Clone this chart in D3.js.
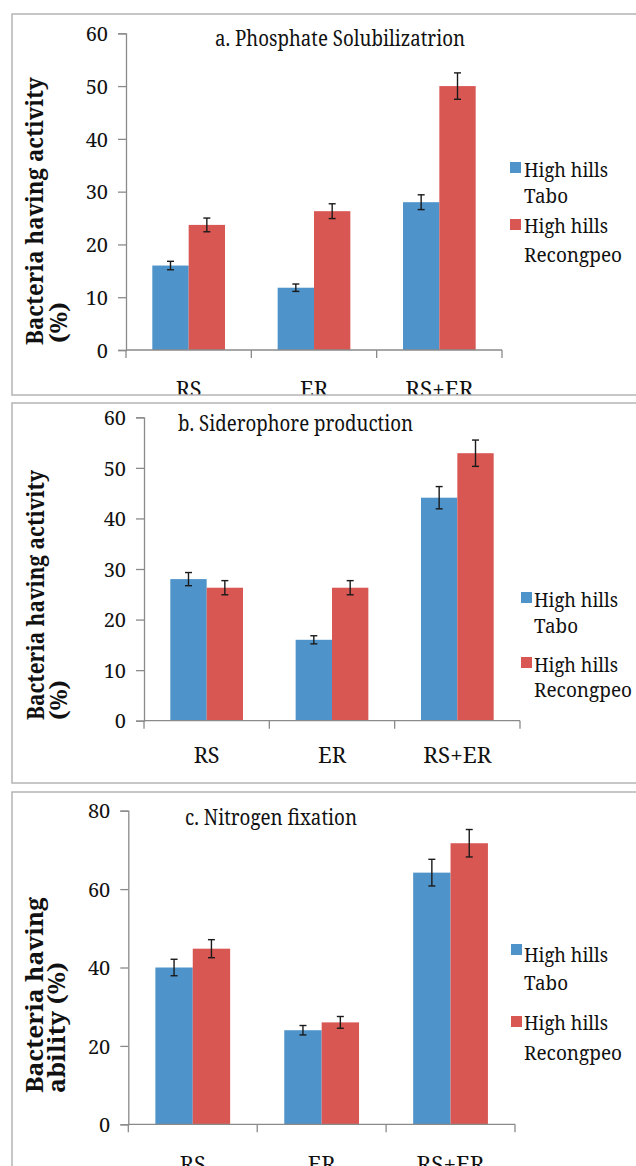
<!DOCTYPE html>
<html>
<head>
<meta charset="utf-8">
<script src="https://cdn.jsdelivr.net/npm/d3@7"></script>
<style>
  html, body { margin: 0; padding: 0; background: #fff; }
  svg { display: block; }
</style>
</head>
<body>
<svg id="chart" width="636" height="1166"></svg>
<script>
// ---------------- DATA ----------------
const categories = ["RS", "ER", "RS+ER"];
const seriesNames = [["High hills", "Tabo"], ["High hills", "Recongpeo"]];

const phosTabo = [16.0, 11.8, 28.0];
const phosTaboErr = [0.8, 0.7, 1.4];
const phosRecong = [23.7, 26.3, 50.0];
const phosRecongErr = [1.3, 1.4, 2.5];

const sidTabo = [28.0, 16.0, 44.1];
const sidTaboErr = [1.3, 0.8, 2.2];
const sidRecong = [26.3, 26.3, 52.9];
const sidRecongErr = [1.4, 1.4, 2.6];

const nitTabo = [40.0, 24.0, 64.2];
const nitTaboErr = [2.1, 1.2, 3.4];
const nitRecong = [44.8, 26.0, 71.7];
const nitRecongErr = [2.3, 1.5, 3.5];

const ticksAB = [0, 10, 20, 30, 40, 50, 60];
const ticksC = [0, 20, 40, 60, 80];

const titles = ["a. Phosphate Solubilizatrion", "b. Siderophore production", "c. Nitrogen fixation"];
const yLabels = [["Bacteria having activity", "(%)"], ["Bacteria having activity", "(%)"], ["Bacteria having", "ability (%)"]];

// ---------------- LAYOUT ----------------
const FONT = '"Noto Serif", "Liberation Serif", serif';
const colors = ["#4e93c9", "#d85753"];
const catWidths = { "RS": 26, "ER": 28, "RS+ER": 68 };
const legendWidths = { "High hills": 84, "Tabo": 44, "Recongpeo": 98 };
const panels = [
  { series: [phosTabo, phosRecong], errs: [phosTaboErr, phosRecongErr], ticks: ticksAB, max: 60,
    box: [12, 14, 395], x0: 126, x1: 502, yTop: 33.3, yBot: 350,
    title: { x: 215, y: 46, len: 250 },
    ylab: [{ x: 43, y: 345, len: 268 }, { x: 67, y: 343, len: 41 }],
    catDy: 47, legend: { sx: 510, tx: 524, rows: [[162, 177, 203], [219, 233, 262]] } },
  { series: [sidTabo, sidRecong], errs: [sidTaboErr, sidRecongErr], ticks: ticksAB, max: 60,
    box: [12, 403, 783], x0: 144, x1: 520, yTop: 417.3, yBot: 720.7,
    title: { x: 178, y: 431, len: 235 },
    ylab: [{ x: 44, y: 720, len: 250 }, { x: 67, y: 720, len: 40 }],
    catDy: 42, legend: { sx: 521, tx: 534, rows: [[592, 607, 633], [657, 672, 697]] } },
  { series: [nitTabo, nitRecong], errs: [nitTaboErr, nitRecongErr], ticks: ticksC, max: 80,
    box: [12, 792, 1200], x0: 128.3, x1: 515, yTop: 810.7, yBot: 1124.3,
    title: { x: 185, y: 825, len: 172 },
    ylab: [{ x: 43, y: 1093, len: 196 }, { x: 65, y: 1093, len: 131 }],
    catDy: 48, legend: { sx: 511, tx: 524, rows: [[944, 962, 990], [1016, 1030, 1060]] } }
];

const svg = d3.select("#chart");
const defs = svg.append("defs");

function txt(sel, size, weight) {
  return sel.style("font-family", FONT).style("font-size", size + "px")
    .style("font-weight", weight || "normal").attr("fill", "#111");
}

panels.forEach((p, pi) => {
  const [bx, by0, by1] = p.box;
  const clipId = "clip" + pi;
  defs.append("clipPath").attr("id", clipId)
    .append("rect").attr("x", bx).attr("y", by0).attr("width", 640 - bx).attr("height", by1 - by0);

  const g = svg.append("g").attr("clip-path", `url(#${clipId})`);

  // frame
  svg.append("rect")
    .attr("x", bx).attr("y", by0).attr("width", 640 - bx).attr("height", by1 - by0)
    .attr("fill", "none").attr("stroke", "#b4b4b4").attr("stroke-width", 1.5);

  const x = d3.scaleBand().domain(categories).range([p.x0, p.x1]).padding(0);
  const pad = x.bandwidth() * 0.21;
  const xs = d3.scaleBand().domain([0, 1]).range([pad, x.bandwidth() - pad]).padding(0);
  const y = d3.scaleLinear().domain([0, p.max]).range([p.yBot, p.yTop]);

  // bars
  p.series.forEach((vals, si) => {
    g.selectAll(null).data(vals).enter().append("rect")
      .attr("x", (d, i) => x(categories[i]) + xs(si))
      .attr("y", d => y(d))
      .attr("width", xs.bandwidth())
      .attr("height", d => y(0) - y(d))
      .attr("fill", colors[si]);
  });

  // error bars
  p.series.forEach((vals, si) => {
    const errs = p.errs[si];
    const eg = g.append("g").attr("stroke", "#1a1a1a").attr("stroke-width", 1.4);
    vals.forEach((v, i) => {
      const cx = x(categories[i]) + xs(si) + xs.bandwidth() / 2;
      const yHi = y(v + errs[i]), yLo = y(v - errs[i]);
      eg.append("line").attr("x1", cx).attr("x2", cx).attr("y1", yHi).attr("y2", yLo);
      eg.append("line").attr("x1", cx - 3.5).attr("x2", cx + 3.5).attr("y1", yHi).attr("y2", yHi);
      eg.append("line").attr("x1", cx - 3.5).attr("x2", cx + 3.5).attr("y1", yLo).attr("y2", yLo);
    });
  });

  // y axis
  const yAxis = d3.axisLeft(y).tickValues(p.ticks).tickSize(8).tickPadding(10).tickFormat(d3.format("d"));
  const ya = g.append("g").attr("transform", `translate(${p.x0},0)`).call(yAxis);
  ya.select(".domain").attr("stroke", "#8a8a8a").attr("stroke-width", 1.3);
  ya.selectAll(".tick line").attr("stroke", "#8a8a8a").attr("stroke-width", 1.3);
  txt(ya.selectAll(".tick text"), 20).attr("dy", "0.36em");

  // x axis
  const xa = g.append("g").attr("transform", `translate(0,${p.yBot})`);
  xa.append("line").attr("x1", p.x0).attr("x2", p.x1).attr("y1", 0).attr("y2", 0)
    .attr("stroke", "#8a8a8a").attr("stroke-width", 1.3);
  const edges = categories.map(c => x(c)).concat([p.x1]);
  xa.selectAll(null).data(edges).enter().append("line")
    .attr("x1", d => d).attr("x2", d => d).attr("y1", 0).attr("y2", 8)
    .attr("stroke", "#8a8a8a").attr("stroke-width", 1.3);
  txt(xa.selectAll(null).data(categories).enter().append("text"), 22)
    .attr("x", d => x(d) + x.bandwidth() / 2).attr("y", p.catDy)
    .attr("text-anchor", "middle")
    .attr("textLength", d => catWidths[d]).attr("lengthAdjust", "spacingAndGlyphs")
    .text(d => d);

  // title
  txt(g.append("text"), 21).attr("x", p.title.x).attr("y", p.title.y)
    .attr("textLength", p.title.len).attr("lengthAdjust", "spacingAndGlyphs")
    .text(titles[pi]);

  // y label
  p.ylab.forEach((l, li) => {
    txt(g.append("text"), 23, "bold").attr("transform", `translate(${l.x},${l.y}) rotate(-90)`)
      .attr("textLength", l.len).attr("lengthAdjust", "spacingAndGlyphs")
      .text(yLabels[pi][li]);
  });

  // legend
  seriesNames.forEach((nm, si) => {
    const r = p.legend.rows[si];
    g.append("rect").attr("x", p.legend.sx).attr("y", r[0]).attr("width", 11).attr("height", 11)
      .attr("fill", colors[si]);
    txt(g.append("text"), 20).attr("x", p.legend.tx).attr("y", r[1])
      .attr("textLength", legendWidths[nm[0]]).attr("lengthAdjust", "spacingAndGlyphs").text(nm[0]);
    txt(g.append("text"), 20).attr("x", p.legend.tx).attr("y", r[2])
      .attr("textLength", legendWidths[nm[1]]).attr("lengthAdjust", "spacingAndGlyphs").text(nm[1]);
  });
});
</script>
</body>
</html>
